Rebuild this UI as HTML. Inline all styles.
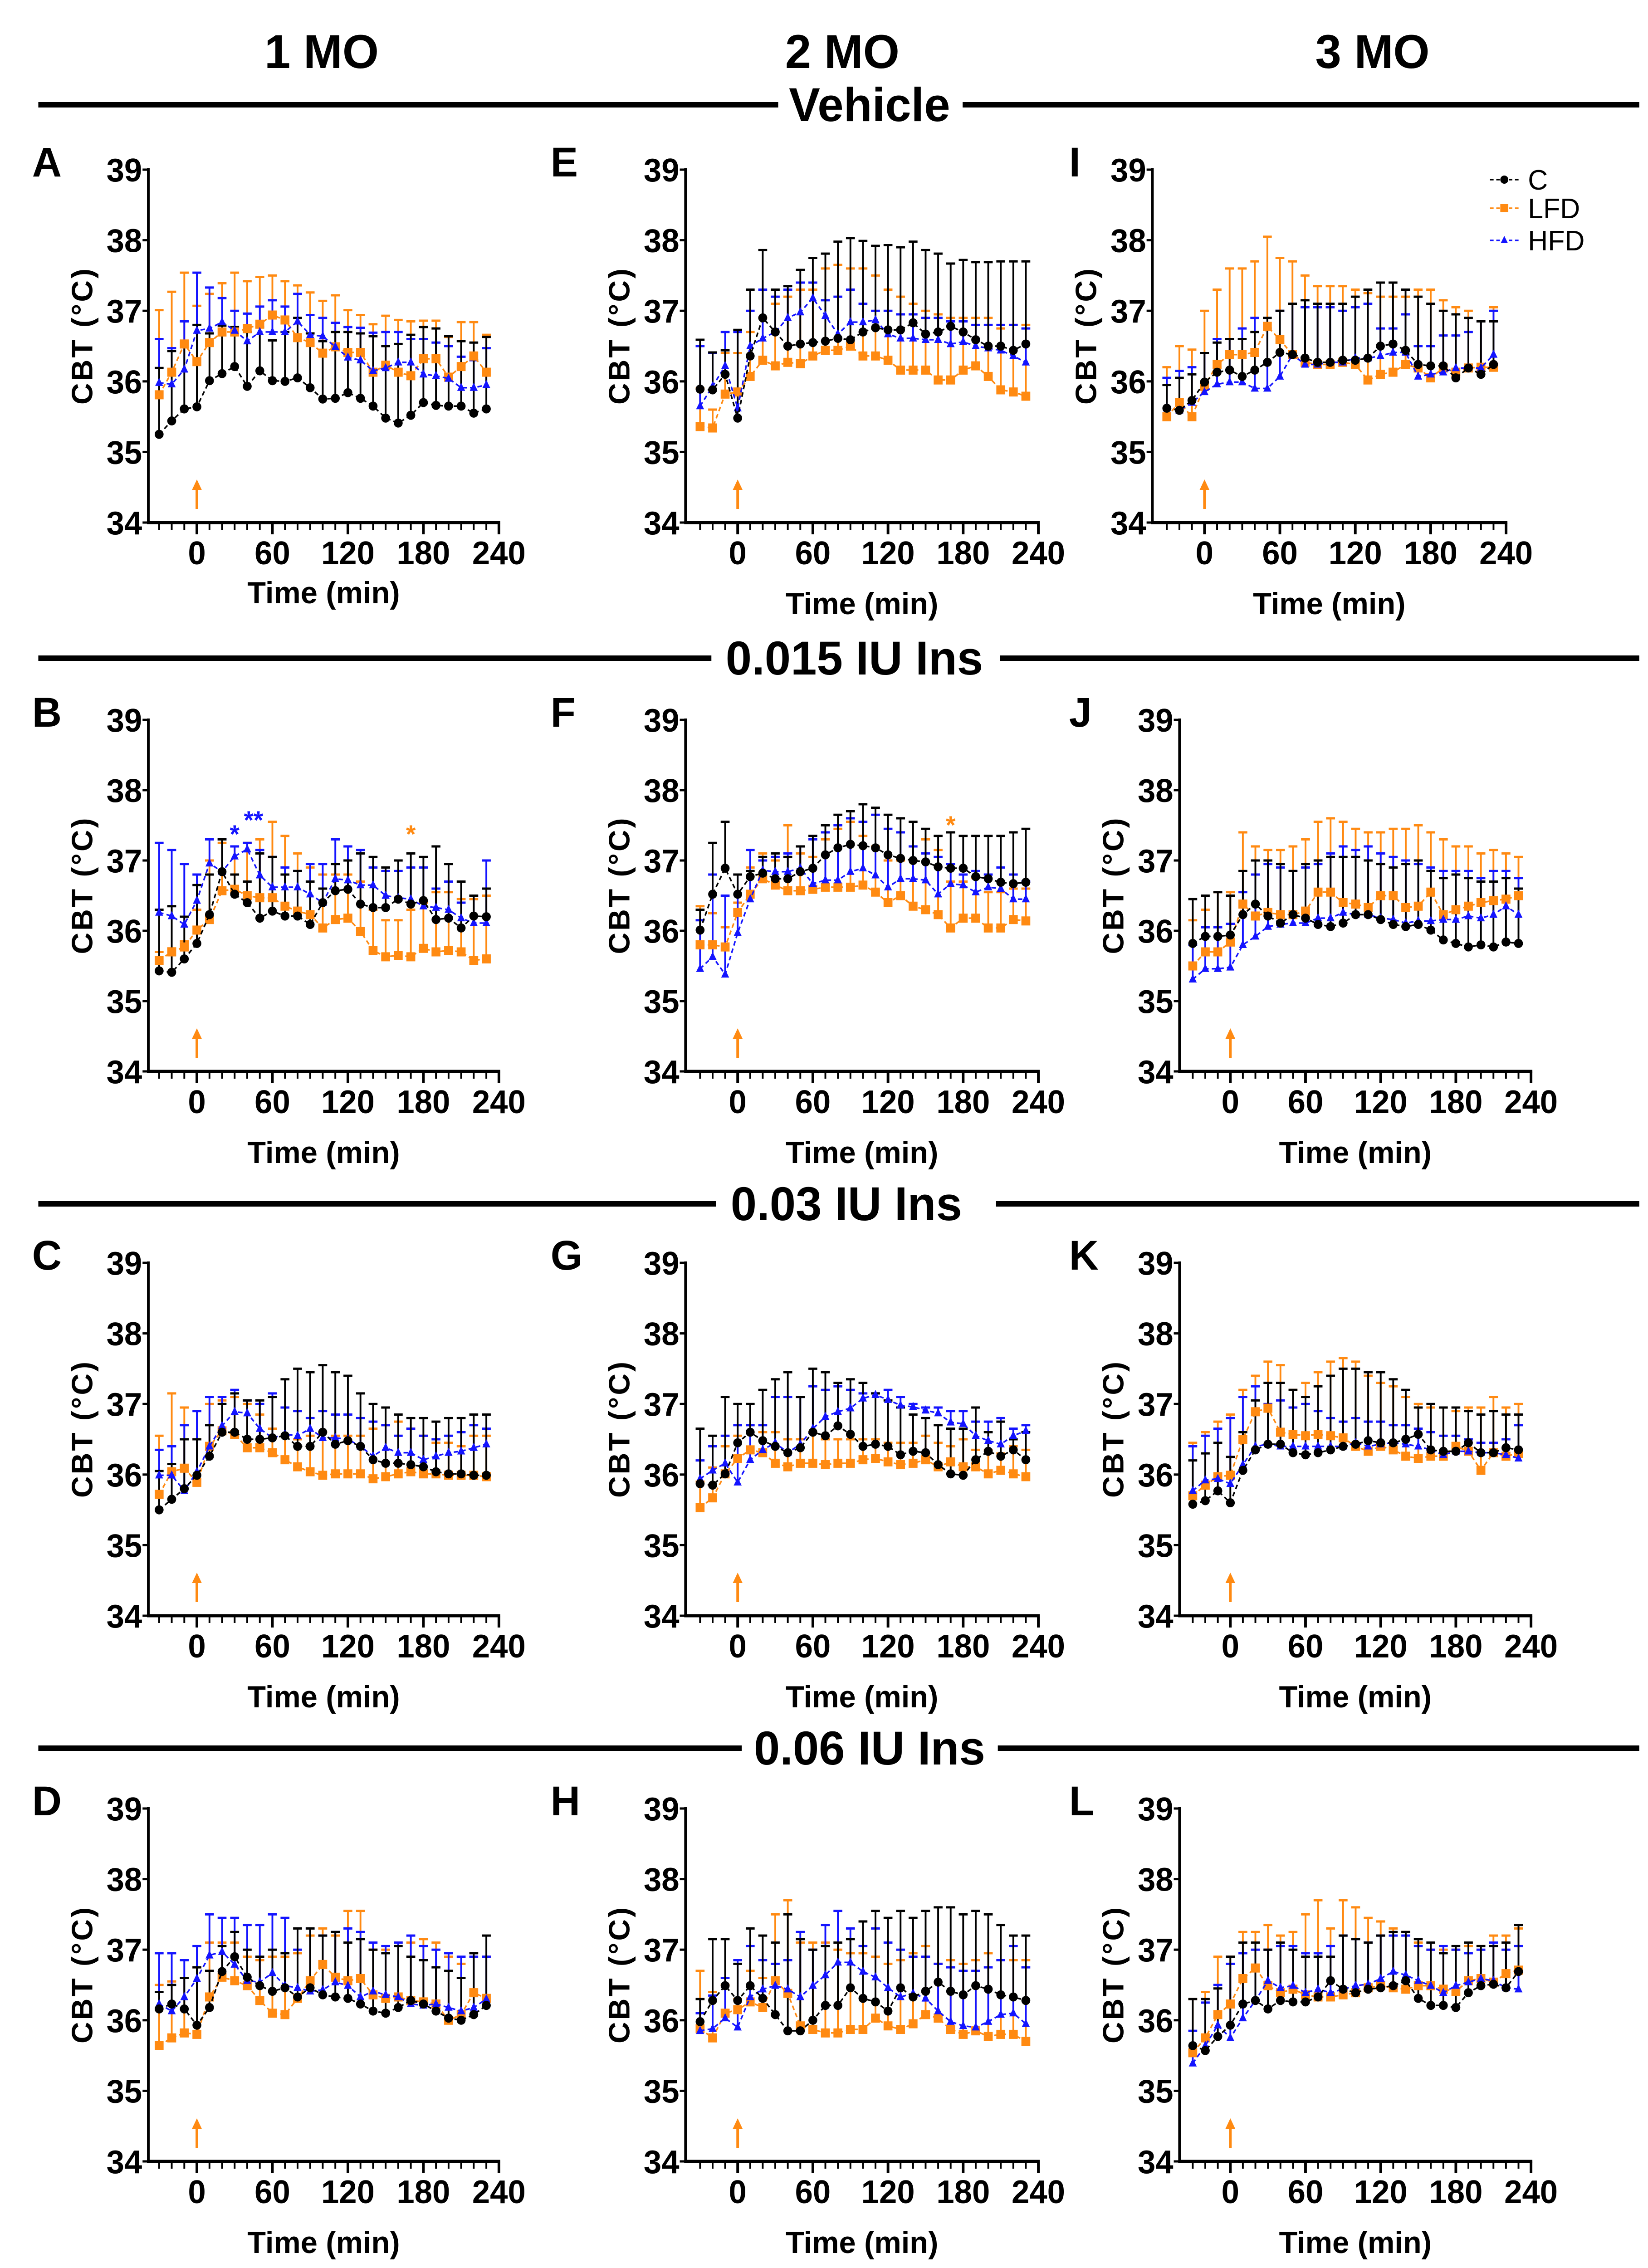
<!DOCTYPE html>
<html><head><meta charset="utf-8"><title>CBT panels</title>
<style>
html,body{margin:0;padding:0;background:#fff;width:3633px;height:5064px;overflow:hidden;}
svg{display:block;}
text{font-family:"Liberation Sans",Arial,sans-serif;}
</style></head>
<body>
<svg id="fig" width="3633" height="5064" viewBox="0 0 3633 5064" xmlns="http://www.w3.org/2000/svg">
<rect x="0" y="0" width="3633" height="5064" fill="#fff"/>
<g id="root" transform="scale(0.982 1)">
<text x="722" y="150" font-size="105" font-weight="bold" text-anchor="middle">1 MO</text>
<text x="1891" y="150" font-size="105" font-weight="bold" text-anchor="middle">2 MO</text>
<text x="3081" y="150" font-size="105" font-weight="bold" text-anchor="middle">3 MO</text>
<g id="sections"></g>
<g id="panels"></g>
</g>
</svg>
<script>
const times = [-30,-20,-10,0,10,20,30,40,50,60,70,80,90,100,110,120,130,140,150,160,170,180,190,200,210,220,230];
const yTicks = [34,35,36,37,38,39];
const xTickLabels = [0,60,120,180,240];

// Panel A (1 MO, Vehicle)
const A_C = [35.25,35.44,35.61,35.64,36.01,36.11,36.21,35.93,36.15,36.01,36.0,36.05,35.91,35.75,35.76,35.84,35.76,35.65,35.48,35.41,35.52,35.7,35.66,35.65,35.65,35.55,35.61];
const A_C_top = [36.19,36.43,36.54,36.8,36.68,36.79,36.77,36.7,36.77,36.58,36.7,36.9,36.68,36.57,36.7,36.7,36.68,36.64,36.5,36.53,36.66,36.77,36.75,36.64,36.57,36.55,36.63];
const A_L = [35.81,36.13,36.53,36.28,36.55,36.7,36.7,36.75,36.81,36.94,36.87,36.62,36.55,36.4,36.49,36.41,36.41,36.13,36.23,36.13,36.08,36.32,36.32,36.06,36.21,36.36,36.13];
const A_L_top = [37.01,37.27,37.54,37.07,37.24,37.39,37.54,37.42,37.48,37.5,37.42,37.36,37.26,37.14,37.22,37.01,36.94,36.81,36.93,36.87,36.85,36.86,36.86,36.63,36.84,36.84,36.66];
const A_H = [35.98,35.96,36.17,36.72,36.75,36.84,36.72,36.57,36.7,36.7,36.7,36.85,36.66,36.64,36.49,36.34,36.3,36.15,36.19,36.27,36.27,36.1,36.08,36.04,35.91,35.91,35.95];
const A_H_top = [36.6,36.47,36.85,37.54,37.33,37.18,37.0,36.96,37.06,37.15,37.06,37.24,36.94,36.9,36.83,36.77,36.76,36.69,36.7,36.7,36.6,36.6,36.55,36.5,36.35,36.3,36.47];
// Panel E (2 MO, Vehicle)
const E_C = [35.89,35.88,36.1,35.48,36.36,36.9,36.7,36.5,36.53,36.55,36.57,36.61,36.59,36.7,36.76,36.73,36.73,36.83,36.67,36.7,36.78,36.7,36.59,36.5,36.5,36.44,36.53];
const E_C_top = [36.59,36.41,36.44,36.73,37.3,37.86,37.3,37.35,37.58,37.75,37.81,37.98,38.03,37.99,37.92,37.93,37.9,37.98,37.86,37.81,37.67,37.72,37.69,37.69,37.7,37.7,37.7];
const E_L = [35.36,35.34,35.82,35.85,36.07,36.3,36.22,36.27,36.25,36.36,36.44,36.44,36.5,36.36,36.36,36.3,36.16,36.16,36.16,36.02,36.02,36.16,36.22,36.07,35.88,35.85,35.79];
const E_L_top = [35.9,35.6,36.4,36.4,36.7,36.9,37.1,37.2,37.3,37.3,37.6,37.65,37.6,37.6,37.5,37.3,37.2,37.1,37.0,36.95,36.9,36.9,36.9,36.9,36.75,36.8,36.8];
const E_H = [35.65,35.93,36.22,35.62,36.5,36.61,36.7,36.9,36.98,37.18,36.93,36.67,36.84,36.84,36.87,36.67,36.61,36.61,36.59,36.59,36.53,36.56,36.5,36.47,36.44,36.36,36.27];
const E_H_top = [36.5,36.4,36.7,36.7,37.0,37.3,37.2,37.3,37.4,37.4,37.15,37.2,37.3,37.1,37.0,37.0,36.95,36.95,36.9,36.9,36.85,36.85,36.8,36.8,36.8,36.8,36.75];
// Panel I (3 MO, Vehicle)
const I_C = [35.62,35.59,35.73,35.99,36.13,36.16,36.07,36.16,36.27,36.41,36.38,36.33,36.27,36.27,36.3,36.3,36.33,36.5,36.53,36.44,36.24,36.22,36.22,36.05,36.19,36.1,36.24];
const I_C_top = [35.95,36.05,36.1,36.4,36.55,36.6,36.6,36.7,36.9,37.0,37.1,37.15,37.1,37.1,37.1,37.2,37.3,37.4,37.4,37.3,37.2,37.1,37.0,36.95,36.9,36.85,36.85];
const I_L = [35.5,35.7,35.5,35.93,36.24,36.38,36.38,36.41,36.78,36.59,36.38,36.27,36.24,36.24,36.27,36.24,36.02,36.1,36.13,36.24,36.19,36.05,36.19,36.13,36.19,36.2,36.2];
const I_L_top = [36.2,36.5,36.45,37.0,37.3,37.6,37.6,37.7,38.05,37.75,37.7,37.5,37.35,37.35,37.35,37.3,37.25,37.2,37.2,37.2,37.3,37.3,37.15,37.05,37.0,36.85,37.05];
const I_H = [35.62,35.59,35.7,35.85,35.96,35.99,35.99,35.9,35.9,36.07,36.38,36.24,36.24,36.27,36.27,36.33,36.33,36.36,36.41,36.41,36.07,36.1,36.13,36.19,36.19,36.19,36.38];
const I_H_top = [36.05,36.15,36.2,36.4,36.6,36.6,36.75,36.9,36.75,37.0,37.1,37.05,37.05,37.05,37.0,37.05,37.1,36.75,36.75,36.95,36.5,36.5,36.65,36.65,36.7,36.85,37.0];
// Panel B (1 MO, 0.015 IU)
const B_C = [35.43,35.41,35.6,35.82,36.23,36.84,36.52,36.4,36.18,36.28,36.21,36.21,36.09,36.4,36.57,36.59,36.38,36.33,36.33,36.45,36.38,36.43,36.16,36.18,36.04,36.21,36.2];
const B_C_top = [36.3,36.35,36.2,36.65,36.8,37.3,36.8,36.7,37.1,37.05,36.8,36.85,36.7,36.6,36.95,37.0,37.1,37.05,36.9,37.0,37.1,37.05,37.2,36.95,36.7,36.5,36.6];
const B_L = [35.58,35.7,35.77,36.01,36.16,36.57,36.59,36.5,36.47,36.47,36.35,36.28,36.23,36.04,36.16,36.18,35.99,35.72,35.63,35.65,35.63,35.75,35.7,35.72,35.7,35.58,35.6];
const B_L_top = [35.7,35.75,35.85,36.3,37.0,37.25,37.2,37.25,37.3,37.55,37.35,37.1,36.9,36.8,36.8,36.8,36.7,36.3,36.15,36.15,36.3,36.4,36.55,36.55,36.45,36.45,36.5];
const B_H = [36.26,36.21,36.09,36.43,36.96,36.84,37.06,37.16,36.79,36.62,36.62,36.62,36.52,36.4,36.74,36.72,36.65,36.65,36.5,36.47,36.45,36.35,36.33,36.3,36.18,36.11,36.11];
const B_H_top = [37.25,37.15,36.95,36.8,37.3,37.3,37.2,37.25,37.15,37.05,36.9,36.85,36.95,36.95,37.3,37.2,37.15,36.9,36.85,36.85,36.9,36.9,36.6,36.7,36.4,36.5,37.0];
// Panel F (2 MO, 0.015 IU)
const F_C = [36.01,36.52,36.89,36.52,36.77,36.82,36.74,36.74,36.84,36.89,37.08,37.18,37.23,37.21,37.18,37.08,37.03,37.0,36.98,36.91,36.89,36.89,36.77,36.74,36.69,36.67,36.69];
const F_C_top = [36.3,37.25,37.55,36.8,36.85,37.05,37.1,37.05,37.2,37.35,37.5,37.65,37.7,37.8,37.75,37.65,37.6,37.55,37.45,37.35,37.4,37.35,37.35,37.35,37.35,37.4,37.45];
const F_L = [35.8,35.8,35.77,36.26,36.52,36.74,36.65,36.57,36.57,36.59,36.62,36.62,36.62,36.65,36.55,36.4,36.5,36.35,36.3,36.23,36.04,36.18,36.18,36.04,36.04,36.16,36.14];
const F_L_top = [36.35,36.25,36.05,36.4,36.9,37.1,37.0,37.5,37.1,37.05,37.3,37.45,37.55,37.35,37.2,37.0,37.0,37.0,37.3,37.15,36.7,36.7,36.75,36.55,36.55,36.6,36.6];
const F_H = [35.46,35.63,35.38,35.97,36.45,36.86,36.84,36.84,36.89,36.67,36.72,36.72,36.84,36.89,36.79,36.62,36.74,36.74,36.72,36.52,36.67,36.65,36.55,36.62,36.6,36.45,36.45];
const F_H_top = [36.15,36.8,36.5,36.8,37.15,37.0,37.05,37.1,37.2,37.3,37.4,37.5,37.6,37.55,37.65,37.45,37.4,37.2,37.1,37.05,36.95,36.8,36.85,36.8,36.9,36.8,36.7];
// Panel J (3 MO, 0.015 IU)
const J_C = [35.82,35.92,35.92,35.94,36.23,36.38,36.21,36.11,36.23,36.18,36.09,36.06,36.11,36.23,36.23,36.16,36.09,36.06,36.09,36.01,35.87,35.82,35.77,35.8,35.77,35.84,35.82];
const J_C_top = [36.45,36.5,36.55,36.5,36.85,37.0,37.0,36.95,36.85,36.95,37.0,37.05,37.05,37.05,37.0,36.95,36.9,36.95,37.0,36.85,36.75,36.8,36.75,36.7,36.7,36.75,36.6];
const J_L = [35.5,35.7,35.7,35.84,36.38,36.21,36.26,36.23,36.23,36.28,36.55,36.55,36.4,36.38,36.33,36.5,36.5,36.33,36.35,36.55,36.23,36.3,36.35,36.4,36.43,36.45,36.5];
const J_L_top = [36.15,36.3,36.55,36.55,37.4,37.2,37.15,37.15,37.2,37.3,37.55,37.6,37.55,37.45,37.4,37.4,37.45,37.45,37.5,37.4,37.3,37.2,37.2,37.1,37.15,37.1,37.05];
const J_H = [35.31,35.46,35.46,35.48,35.8,35.92,36.06,36.09,36.11,36.11,36.18,36.18,36.26,36.23,36.23,36.18,36.16,36.11,36.14,36.14,36.16,36.16,36.21,36.18,36.23,36.35,36.23];
const J_H_top = [35.8,36.05,36.05,36.1,36.55,36.8,36.95,36.9,36.85,36.9,36.95,37.1,37.2,37.15,37.2,37.1,37.05,37.0,36.95,36.9,36.85,36.85,36.85,36.75,36.85,36.85,36.75];
// Panel C (1 MO, 0.03 IU)
const C_C = [35.5,35.65,35.8,35.99,36.26,36.6,36.6,36.5,36.5,36.52,36.55,36.4,36.4,36.6,36.43,36.48,36.4,36.21,36.16,36.16,36.14,36.11,36.04,36.01,36.01,35.99,35.99];
const C_C_top = [36.05,36.15,36.5,36.5,36.7,37.0,37.15,37.05,37.05,37.1,37.35,37.5,37.45,37.55,37.45,37.4,37.15,37.0,36.95,36.85,36.8,36.8,36.75,36.8,36.8,36.85,36.85];
const C_L = [35.72,36.04,36.09,35.89,36.4,36.62,36.57,36.38,36.38,36.31,36.21,36.11,36.04,35.99,36.01,36.01,36.01,35.94,35.97,36.01,36.04,36.01,36.01,35.99,35.99,35.99,35.97];
const C_L_top = [36.55,37.15,36.95,36.5,37.0,37.05,37.1,37.0,36.85,36.65,36.55,36.5,36.55,36.6,36.55,36.55,36.55,36.65,36.7,36.75,36.65,36.55,36.45,36.45,36.4,36.55,36.55];
const C_H = [35.99,35.99,35.77,36.04,36.4,36.69,36.89,36.87,36.65,36.52,36.57,36.55,36.65,36.52,36.52,36.5,36.4,36.26,36.38,36.31,36.31,36.21,36.26,36.31,36.33,36.38,36.43];
const C_H_top = [36.35,36.4,36.7,36.9,37.1,37.1,37.2,37.05,37.0,37.15,36.95,36.9,36.8,36.9,36.85,36.85,36.8,36.75,36.7,36.55,36.65,36.55,36.5,36.55,36.6,36.7,36.65];
// Panel G (2 MO, 0.03 IU)
const G_C = [35.87,35.85,36.01,36.45,36.6,36.48,36.4,36.31,36.38,36.6,36.55,36.69,36.57,36.4,36.43,36.4,36.28,36.33,36.31,36.14,36.01,35.99,36.21,36.33,36.26,36.35,36.21];
const G_C_top = [36.65,36.55,37.1,37.0,37.0,37.2,37.35,37.45,37.1,37.5,37.45,37.3,37.35,37.3,37.15,37.05,36.95,36.85,36.8,36.7,36.65,36.65,36.95,36.6,36.75,36.5,36.6];
const G_L = [35.53,35.67,36.01,36.23,36.35,36.31,36.16,36.11,36.16,36.16,36.14,36.16,36.16,36.21,36.23,36.18,36.14,36.16,36.21,36.11,36.18,36.11,36.11,36.01,36.06,36.01,35.97];
const G_L_top = [35.9,36.1,36.4,36.55,36.7,36.6,36.6,36.5,36.5,36.6,36.5,36.5,36.5,36.5,36.5,36.45,36.45,36.45,36.55,36.45,36.4,36.5,36.35,36.35,36.3,36.4,36.35];
const G_H = [35.94,36.06,36.16,35.89,36.21,36.35,36.45,36.31,36.43,36.65,36.82,36.89,36.94,37.08,37.13,37.06,36.98,36.96,36.91,36.87,36.74,36.72,36.55,36.48,36.43,36.55,36.62];
const G_H_top = [36.2,36.4,36.55,36.7,36.7,36.7,37.1,37.1,37.1,37.25,37.2,37.25,37.2,37.15,37.15,37.2,37.1,37.0,36.95,36.95,36.9,36.9,36.75,36.75,36.8,36.65,36.7];
// Panel K (3 MO, 0.03 IU)
const K_C = [35.58,35.63,35.77,35.6,36.06,36.35,36.43,36.43,36.31,36.28,36.31,36.35,36.4,36.43,36.48,36.45,36.45,36.5,36.57,36.35,36.33,36.33,36.45,36.31,36.31,36.38,36.35];
const K_C_top = [36.2,36.3,36.45,36.25,36.6,37.05,37.3,37.3,37.2,37.1,37.25,37.4,37.5,37.5,37.45,37.45,37.35,37.2,36.95,37.0,36.95,36.95,36.9,36.85,36.9,36.85,36.85];
const K_L = [35.7,35.85,35.97,35.99,36.5,36.89,36.94,36.6,36.57,36.55,36.57,36.55,36.52,36.4,36.33,36.4,36.35,36.26,36.23,36.26,36.26,36.4,36.33,36.06,36.31,36.26,36.3];
const K_L_top = [36.45,36.6,36.75,36.85,37.2,37.4,37.6,37.55,37.2,37.3,37.45,37.6,37.65,37.6,37.4,37.3,37.25,37.1,37.0,36.95,36.95,36.9,36.95,36.95,37.1,36.95,37.0];
const K_H = [35.77,35.92,35.94,35.87,36.14,36.4,36.43,36.4,36.4,36.4,36.4,36.4,36.4,36.45,36.4,36.43,36.45,36.43,36.4,36.35,36.28,36.33,36.33,36.31,36.31,36.28,36.23];
const K_H_top = [36.4,36.55,36.65,36.8,37.1,37.25,37.0,37.05,36.95,37.0,36.9,36.8,36.75,36.8,36.75,36.75,36.7,36.7,36.65,36.6,36.55,36.55,36.5,36.45,36.45,36.5,36.7];
// Panel D (1 MO, 0.06 IU)
const D_C = [36.16,36.23,36.16,35.93,36.18,36.69,36.9,36.61,36.49,36.41,36.46,36.33,36.46,36.36,36.33,36.31,36.23,36.13,36.1,36.18,36.28,36.23,36.13,36.03,36.0,36.08,36.21];
const D_C_top = [36.4,36.5,36.6,36.75,36.7,37.05,37.25,37.0,36.9,37.0,36.95,37.3,37.3,37.2,37.25,37.1,37.15,37.0,36.95,37.05,36.9,36.85,36.75,36.7,36.6,36.95,37.2];
const D_L = [35.64,35.75,35.82,35.8,36.33,36.61,36.56,36.49,36.28,36.1,36.08,36.31,36.56,36.79,36.61,36.56,36.59,36.36,36.31,36.33,36.28,36.26,36.23,36.0,36.08,36.39,36.31];
const D_L_top = [36.5,36.55,36.6,36.75,37.1,37.1,37.1,36.9,36.85,36.9,36.9,36.95,37.2,37.3,37.2,37.55,37.55,37.0,37.0,37.1,37.1,37.15,37.1,36.9,36.8,36.95,36.9];
const D_H = [36.23,36.13,36.33,36.59,36.92,36.97,36.79,36.56,36.54,36.67,36.49,36.46,36.41,36.43,36.54,36.49,36.33,36.41,36.36,36.33,36.23,36.21,36.23,36.18,36.13,36.18,36.3];
const D_H_top = [36.95,36.95,36.85,37.05,37.5,37.45,37.45,37.35,37.35,37.5,37.45,37.0,37.3,37.2,37.25,37.3,37.25,37.1,37.05,37.1,37.2,37.05,37.0,36.95,36.9,36.9,36.9];
// Panel H (2 MO, 0.06 IU)
const H_C = [35.98,36.28,36.49,36.28,36.49,36.31,36.08,35.85,35.85,36.0,36.21,36.21,36.46,36.31,36.26,36.13,36.46,36.33,36.41,36.54,36.41,36.36,36.49,36.44,36.36,36.33,36.28];
const H_C_top = [36.3,37.15,37.15,36.8,37.3,37.2,37.1,37.5,37.15,37.0,37.05,37.1,37.15,37.4,37.55,37.45,37.55,37.45,37.55,37.6,37.6,37.5,37.55,37.5,37.35,37.2,37.2];
const H_L = [35.88,35.75,36.1,36.15,36.26,36.18,36.56,36.38,35.92,35.87,35.82,35.82,35.87,35.87,36.03,35.92,35.87,35.95,36.08,36.03,35.87,35.8,35.85,35.77,35.8,35.8,35.7];
const H_L_top = [36.7,36.4,36.5,36.3,36.7,36.6,37.5,37.7,37.1,37.1,37.1,37.0,36.95,36.95,36.9,36.8,36.85,36.95,37.05,36.8,36.85,36.8,36.85,36.95,36.85,36.85,36.85];
const H_H = [35.85,35.88,36.03,35.9,36.33,36.44,36.49,36.44,36.33,36.49,36.64,36.82,36.82,36.69,36.61,36.46,36.33,36.38,36.31,36.13,35.98,35.92,35.9,35.98,36.08,36.1,35.95];
const H_H_top = [36.1,36.35,36.6,36.85,37.05,36.85,36.8,36.85,37.25,37.0,37.35,37.55,37.3,37.05,37.3,37.1,37.0,36.9,36.9,36.8,36.75,36.7,36.7,36.75,36.85,37.05,36.75];
// Panel L (3 MO, 0.06 IU)
const L_C = [35.64,35.57,35.77,35.93,36.23,36.28,36.16,36.28,36.26,36.26,36.33,36.56,36.44,36.39,36.44,36.46,36.49,36.56,36.31,36.21,36.21,36.18,36.39,36.49,36.51,36.46,36.69];
const L_C_top = [36.3,36.3,36.45,36.9,37.1,37.1,37.0,37.1,37.0,36.9,36.9,36.9,37.2,37.15,37.1,37.2,37.25,37.25,37.15,37.1,36.95,37.05,37.1,37.05,37.05,37.1,37.35];
const L_L = [35.54,35.75,36.08,36.23,36.59,36.74,36.49,36.39,36.44,36.36,36.33,36.33,36.36,36.39,36.46,36.49,36.46,36.44,36.49,36.49,36.44,36.41,36.56,36.59,36.54,36.66,36.71];
const L_L_top = [36.3,36.4,36.9,36.9,37.25,37.25,37.35,37.2,37.25,37.5,37.7,37.3,37.7,37.6,37.45,37.4,37.3,37.25,37.1,37.0,37.0,37.0,37.05,37.05,37.2,37.2,37.3];
const L_H = [35.39,35.64,35.93,35.75,36.03,36.28,36.56,36.46,36.49,36.39,36.44,36.39,36.44,36.49,36.51,36.59,36.69,36.64,36.56,36.49,36.39,36.49,36.54,36.59,36.56,36.46,36.44];
const L_H_top = [35.85,36.25,36.5,36.8,36.95,37.0,37.0,37.05,37.05,36.95,36.95,37.05,37.2,37.15,37.1,37.2,37.2,37.2,37.05,37.0,37.05,37.0,36.95,37.0,37.1,37.0,37.05];

const NS = "http://www.w3.org/2000/svg";
const ORANGE = "#ff8a12", BLUE = "#1414ff", BLACK = "#000000";
function mk(tag, attrs, parent){
  const e = document.createElementNS(NS, tag);
  for (const k in attrs) e.setAttribute(k, attrs[k]);
  if (parent) parent.appendChild(e);
  return e;
}
const root = document.getElementById('root');
const sec = document.getElementById('sections');
const panelsG = document.getElementById('panels');

const sections = [
  {label:"Vehicle", name:"section-vehicle", y:231, cx:1952, g0:1747, g1:2161},
  {label:"0.015 IU Ins", name:"section-0015-iu", y:1451, cx:1918, g0:1597, g1:2245},
  {label:"0.03 IU Ins", name:"section-003-iu", y:2654, cx:1900, g0:1607, g1:2236},
  {label:"0.06 IU Ins", name:"section-006-iu", y:3854, cx:1952, g0:1665, g1:2240}
];
sections.forEach(s=>{
  const l1 = mk('line',{x1:86,y1:s.y,x2:s.g0,y2:s.y,stroke:'#000','stroke-width':12},sec);
  
  
  const l2 = mk('line',{x1:s.g1,y1:s.y,x2:3680,y2:s.y,stroke:'#000','stroke-width':12},sec);
  
  
  const t = mk('text',{x:s.cx,y:s.y+36,'font-size':105,'font-weight':'bold','text-anchor':'middle'},sec);
  t.textContent = s.label;
  
  
});

const rows = [[374,1152],[1587,2362],[2784,3562],[3987,4765]];
const colsX = [
  [{ax:333,x0:442,x240:1120},{ax:1539,x0:1656,x240:2331},{ax:2587,x0:2704,x240:3381}],
  [{ax:333,x0:442,x240:1120},{ax:1539,x0:1656,x240:2331},{ax:2648,x0:2762,x240:3437}],
  [{ax:333,x0:442,x240:1120},{ax:1539,x0:1656,x240:2331},{ax:2648,x0:2762,x240:3437}],
  [{ax:333,x0:442,x240:1120},{ax:1539,x0:1656,x240:2331},{ax:2648,x0:2762,x240:3437}]
];
const letterX = [72,1236,2400];
const panelDefs = [
  ['A',0,0,A_C,A_C_top,A_L,A_L_top,A_H,A_H_top],
  ['E',0,1,E_C,E_C_top,E_L,E_L_top,E_H,E_H_top],
  ['I',0,2,I_C,I_C_top,I_L,I_L_top,I_H,I_H_top],
  ['B',1,0,B_C,B_C_top,B_L,B_L_top,B_H,B_H_top],
  ['F',1,1,F_C,F_C_top,F_L,F_L_top,F_H,F_H_top],
  ['J',1,2,J_C,J_C_top,J_L,J_L_top,J_H,J_H_top],
  ['C',2,0,C_C,C_C_top,C_L,C_L_top,C_H,C_H_top],
  ['G',2,1,G_C,G_C_top,G_L,G_L_top,G_H,G_H_top],
  ['K',2,2,K_C,K_C_top,K_L,K_L_top,K_H,K_H_top],
  ['D',3,0,D_C,D_C_top,D_L,D_L_top,D_H,D_H_top],
  ['H',3,1,H_C,H_C_top,H_L,H_L_top,H_H,H_H_top],
  ['L',3,2,L_C,L_C_top,L_L,L_L_top,L_H,L_H_top]
];

function marker(g, kind, x, y, color){
  let m;
  if (kind==='circle') m = mk('circle',{cx:x,cy:y,r:10,fill:color},g);
  else if (kind==='square') m = mk('rect',{x:x-10,y:y-10,width:20,height:20,fill:color},g);
  else m = mk('polygon',{points:`${x},${y-11} ${x-9},${y+7} ${x+9},${y+7}`,fill:color},g);
  return m;
}

panelDefs.forEach(p=>{
  const [letter,ri,ci,cM,cT,lM,lT,hM,hT] = p;
  const [y39,y34] = rows[ri];
  const c = colsX[ri][ci];
  const sx = t => c.x0 + (t/240)*(c.x240-c.x0);
  const sy = v => y34 - (v-34)/5*(y34-y39);
  const g = mk('g',{},panelsG);
  
  

  const lt = mk('text',{x:letterX[ci],y:y39+15,'font-size':92,'font-weight':'bold'},g);
  lt.textContent = letter;
  
  

  const yax = mk('g',{},g);
  
  
  mk('line',{x1:c.ax,y1:y39-3,x2:c.ax,y2:y34+3,stroke:'#000','stroke-width':6},yax);
  yTicks.forEach(v=>{
    mk('line',{x1:c.ax-13,y1:sy(v),x2:c.ax,y2:sy(v),stroke:'#000','stroke-width':5},yax);
    const t = mk('text',{x:c.ax-14,y:sy(v)+26,'font-size':72,'font-weight':'bold','text-anchor':'end'},yax);
    t.textContent = v;
    
    
  });
  const ymid = (y39+y34)/2 - 23;
  const yl = mk('text',{x:c.ax-150,y:ymid+24,'font-size':66,'font-weight':'bold','text-anchor':'middle','letter-spacing':4,transform:`rotate(-90 ${c.ax-150} ${ymid})`},g);
  yl.textContent = 'CBT (°C)';
  
  

  const xax = mk('g',{},g);
  
  
  mk('line',{x1:c.ax-3,y1:y34,x2:sx(240)+3,y2:y34,stroke:'#000','stroke-width':7},xax);
  times.forEach(t=>{
    if (t%60!==0) mk('line',{x1:sx(t),y1:y34,x2:sx(t),y2:y34+16,stroke:'#000','stroke-width':4},xax);
  });
  xTickLabels.forEach(t=>{
    mk('line',{x1:sx(t),y1:y34,x2:sx(t),y2:y34+26,stroke:'#000','stroke-width':6},xax);
    const tx = mk('text',{x:sx(t),y:y34+92,'font-size':72,'font-weight':'bold','text-anchor':'middle'},xax);
    tx.textContent = t;
    
    
  });
  const timeY = (ri===0 && ci===0) ? y34+178 : y34+202;
  const xl = mk('text',{x:(c.ax+sx(240))/2,y:timeY,'font-size':68,'font-weight':'bold','text-anchor':'middle'},g);
  xl.textContent = 'Time (min)';
  
  

  const ar = mk('g',{},g);
  
  
  mk('line',{x1:sx(0),y1:y34-30,x2:sx(0),y2:y34-78,stroke:ORANGE,'stroke-width':6},ar);
  mk('polygon',{points:`${sx(0)},${y34-95} ${sx(0)-11},${y34-72} ${sx(0)+11},${y34-72}`,fill:ORANGE},ar);

  const series = [
    {name:'lfd', m:lM, t:lT, color:ORANGE, kind:'square'},
    {name:'hfd', m:hM, t:hT, color:BLUE, kind:'triangle'},
    {name:'c', m:cM, t:cT, color:BLACK, kind:'circle'}
  ];
  series.forEach(s=>{
    const sg = mk('g',{},g);
    
    
    s.m.forEach((v,i)=>{
      const x = sx(times[i]);
      const top = s.t[i];
      mk('line',{x1:x,y1:sy(v),x2:x,y2:sy(top),stroke:s.color,'stroke-width':4},sg);
      mk('line',{x1:x-10,y1:sy(top),x2:x+10,y2:sy(top),stroke:s.color,'stroke-width':5},sg);
    });
  });
  series.forEach(s=>{
    const sg = mk('g',{},g);
    
    
    const pts = s.m.map((v,i)=>`${sx(times[i]).toFixed(1)},${sy(v).toFixed(1)}`).join(' ');
    mk('polyline',{points:pts,fill:'none',stroke:s.color,'stroke-width':3.5,'stroke-dasharray':'10 7'},sg);
    s.m.forEach((v,i)=>{
      const mm = marker(sg, s.kind, sx(times[i]), sy(v), s.color);
      
      
    });
  });

  if (letter==='B'){
    const a1 = mk('text',{x:sx(30),y:sy(37.25),'font-size':56,'font-weight':'bold',fill:BLUE,'text-anchor':'middle'},g);
    a1.textContent='*';
    
    
    const a2 = mk('text',{x:sx(45),y:sy(37.45),'font-size':56,'font-weight':'bold',fill:BLUE,'text-anchor':'middle'},g);
    a2.textContent='**';
    
    
    const a3 = mk('text',{x:sx(170),y:sy(37.25),'font-size':56,'font-weight':'bold',fill:ORANGE,'text-anchor':'middle'},g);
    a3.textContent='*';
    
    
  }
  if (letter==='F'){
    const a4 = mk('text',{x:sx(170),y:sy(37.38),'font-size':56,'font-weight':'bold',fill:ORANGE,'text-anchor':'middle'},g);
    a4.textContent='*';
    
    
  }
});

const leg = mk('g',{},root);


[['C',BLACK,'circle',396],['LFD',ORANGE,'square',459],['HFD',BLUE,'triangle',530]].forEach(e=>{
  const eg = mk('g',{},leg);
  
  
  mk('line',{x1:3345,y1:e[3],x2:3410,y2:e[3],stroke:e[1],'stroke-width':3.5,'stroke-dasharray':'8 6'},eg);
  if (e[2]==='circle') mk('circle',{cx:3377,cy:e[3],r:9,fill:e[1]},eg);
  else if (e[2]==='square') mk('rect',{x:3368,y:e[3]-9,width:18,height:18,fill:e[1]},eg);
  else mk('polygon',{points:`3377,${e[3]-10} 3369,${e[3]+6} 3385,${e[3]+6}`,fill:e[1]},eg);
  const t = mk('text',{x:3430,y:e[3]+22,'font-size':62},eg);
  t.textContent = e[0];
  
  
});
</script>
</body></html>
